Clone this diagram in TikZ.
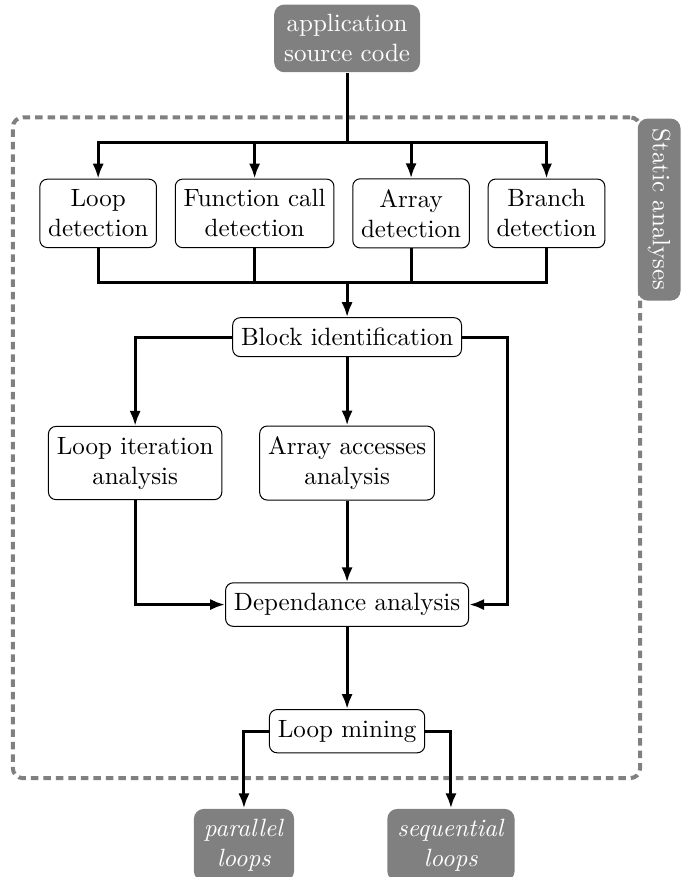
\documentclass[tikz,border=0pt]{standalone}
\usepackage{tikz}
\usetikzlibrary{arrows.meta, positioning}

\begin{document}
\begin{tikzpicture}[
    % GLOBAL CFG
    >={Latex[length=6pt,width=4.5pt]},
    % Styles
    stage/.style={% For the analysis steps
        rectangle,
        rounded corners=3pt,
        draw,
        align=center,
        fill=white,
        inner ysep=4.2pt,
        },
    io/.style={% For external inputs and outputs
        rectangle,
        rounded corners=4pt,
        fill=gray,
        text=white,
        align=center,
        inner sep=4pt,
        },
    frame/.style={% For the dashed group
        rectangle,
        rounded corners=4pt,
        draw=gray,
        line width=1.6pt,
        dash pattern=on 3pt off 2pt,
        },
    link/.style={% Connectors
        very thick,
        },
    ]

\useasboundingbox (-4.88,4.74) rectangle (4.92,-7.59);

%Start drawing the thing...
    % Draw the static analyses group
    \node [frame, minimum width=8.82cm, minimum height=9.29cm] (static) at (-0.29,-1.555) {};
    \node [io, rotate=-90, anchor=south west] (staticlbl) at (4.08,3.08) {Static analyses};

    % Draw input named src
    \node [io] (src) at (0,4.2) {application\\source code};

    % Draw detections named loopdet, funcdet, arrdet, brdet
    \node [stage] (loopdet) at (-3.5,1.74) {Loop\\detection};
    \node [stage, right=0.25cm of loopdet] (funcdet) {Function call\\detection};
    \node [stage, right=0.25cm of funcdet] (arrdet) {Array\\detection};
    \node [stage, right=0.25cm of arrdet] (brdet) {Branch\\detection};

    % Draw analyses
    \node [stage] (block) at (0,0) {Block identification};
    \node [stage] (loopit) at (-2.98,-1.77) {Loop iteration\\analysis};
    \node [stage] (arracc) at (0,-1.77) {Array accesses\\analysis};
    \node [stage] (dep) at (0,-3.76) {Dependance analysis};
    \node [stage] (mining) at (0,-5.54) {Loop mining};

    % Draw outputs named par, seq
    \node [io] (par) at (-1.45,-7.14) {\textit{parallel}\\\textit{loops}};
    \node [io] (seq) at (1.46,-7.14) {\textit{sequential}\\\textit{loops}};

    % Helper points
    \coordinate (split) at (0,2.73);
    \coordinate (join) at (0,0.77);
    \coordinate (bypass) at (2.25,-1.77);

% Start connecting all.
    % Inputs
    \draw [link] (src) -- (split);
    \draw [->, link] (split) -| (loopdet);
    \draw [->, link] (split) -| (funcdet);
    \draw [->, link] (split) -| (arrdet);
    \draw [->, link] (split) -| (brdet);

    % Internal
    \draw [link] (loopdet) |- (join);
    \draw [link] (funcdet) |- (join);
    \draw [link] (arrdet) |- (join);
    \draw [link] (brdet) |- (join);
    \draw [->, link] (join) -- (block);
    \draw [->, link] (block) -| (loopit);
    \draw [->, link] (block) -- (arracc);
    \draw [->, link] (block) -| (bypass) |- (dep);
    \draw [->, link] (loopit) |- (dep);
    \draw [->, link] (arracc) -- (dep);
    \draw [->, link] (dep) -- (mining);

    %Outputs
    \draw [->, link] (mining) -| (par);
    \draw [->, link] (mining) -| (seq);

\end{tikzpicture}
\end{document}
